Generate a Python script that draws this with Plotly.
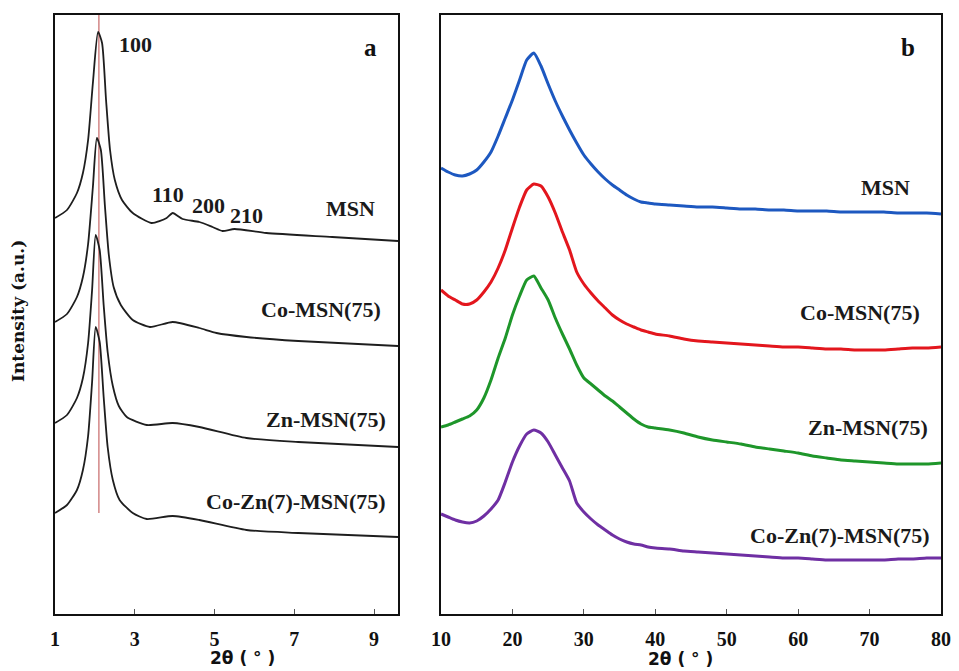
import plotly.graph_objects as go

# ---------------- Panel (a): low-angle XRD ----------------
a_x_msn = [1.0, 1.3, 1.55, 1.7, 1.83, 1.95, 2.08, 2.18, 2.28, 2.38, 2.5, 2.68, 2.95, 3.42, 3.8, 3.95, 4.2, 4.62, 4.95, 5.2, 5.5, 6.3, 7.95, 9.6]
a_y_msn = [396, 404, 421, 441, 474, 531, 582, 571, 514, 464, 434, 414, 401, 391, 396, 401, 395, 392, 387, 383, 385, 381, 377, 373]

a_x_co = [1.0, 1.3, 1.55, 1.7, 1.83, 1.95, 2.05, 2.15, 2.25, 2.35, 2.47, 2.65, 2.95, 3.38, 3.95, 4.62, 5.05, 5.8, 7.1, 9.6]
a_y_co = [292, 300, 317, 337, 370, 427, 476, 464, 409, 359, 327, 309, 294, 287, 292, 286, 281, 277, 273, 268]

a_x_zn = [1.0, 1.3, 1.55, 1.7, 1.83, 1.93, 2.02, 2.12, 2.22, 2.32, 2.45, 2.6, 2.8, 3.3, 3.95, 4.62, 5.8, 7.1, 9.6]
a_y_zn = [191, 199, 216, 236, 271, 324, 379, 364, 309, 262, 228, 208, 197, 189, 191, 187, 176, 172, 167]

a_x_cozn = [1.0, 1.3, 1.55, 1.7, 1.83, 1.93, 2.02, 2.12, 2.22, 2.32, 2.45, 2.62, 2.95, 3.3, 3.95, 4.62, 5.8, 7.1, 9.6]
a_y_cozn = [101, 109, 124, 144, 178, 232, 287, 272, 217, 167, 134, 114, 101, 95, 98, 94, 84, 81, 77]

a_labels = ["MSN", "Co-MSN(75)", "Zn-MSN(75)", "Co-Zn(7)-MSN(75)"]
a_label_x = [9.07, 9.22, 9.35, 9.35]
a_label_y = [406, 305, 195, 113]
hkl_text = ["100", "110", "200", "210"]
hkl_x = [3.03, 3.83, 4.86, 5.81]
hkl_y = [570, 420, 409, 399]
ref_line_x = 2.1
ref_line_y = [101, 599]

# ---------------- Panel (b): wide-angle XRD ----------------
b_x = [10, 11, 12, 13, 14, 15, 16, 17, 18, 19, 20, 21, 22, 23, 24, 25, 26, 27, 28, 29,
       30, 31, 32, 33, 34, 35, 36, 37, 38, 39, 40, 42, 44, 46, 48, 50, 52, 54, 56, 58,
       60, 62, 64, 66, 68, 70, 72, 74, 76, 78, 80]
b_y_msn = [446, 442, 439, 438, 440, 444, 452, 462, 478, 496, 514, 534, 554, 561, 548, 530, 513, 498, 484, 471,
           459, 450, 442, 435, 429, 424, 419, 415, 412, 411, 410, 409, 408, 407, 407, 406, 405, 405, 404, 404,
           403, 403, 403, 402, 402, 402, 402, 401, 401, 401, 400]
b_y_co = [324, 318, 314, 310, 310, 314, 322, 332, 346, 364, 386, 407, 424, 430, 428, 417, 401, 382, 364, 342,
          330, 321, 313, 306, 299, 294, 290, 287, 284, 282, 280, 278, 275, 273, 272, 271, 270, 269, 268, 267,
          267, 266, 265, 265, 264, 264, 264, 265, 266, 266, 267]
b_y_zn = [187, 189, 192, 195, 198, 204, 216, 234, 256, 276, 299, 318, 334, 338, 326, 314, 296, 280, 265, 249,
          236, 230, 224, 218, 213, 207, 201, 195, 190, 187, 186, 184, 181, 177, 174, 172, 170, 167, 165, 163,
          161, 158, 156, 154, 153, 152, 151, 150, 150, 150, 151]
b_y_cozn = [100, 97, 94, 92, 91, 93, 98, 105, 114, 132, 152, 168, 180, 184, 181, 172, 159, 146, 133, 111,
            102, 95, 89, 84, 79, 75, 72, 70, 69, 67, 66, 65, 63, 62, 61, 60, 59, 58, 57, 56,
            56, 55, 54, 54, 54, 54, 54, 55, 55, 56, 56]
b_colors = ["#1d58c0", "#e3161d", "#1e962a", "#6f2fa3"]
b_labels = ["MSN", "Co-MSN(75)", "Zn-MSN(75)", "Co-Zn(7)-MSN(75)"]
b_label_x = [75.94, 77.34, 78.46, 78.74]
b_label_y = [427, 302, 187, 79]

a_ticks = [1, 3, 5, 7, 9]
b_ticks = [10, 20, 30, 40, 50, 60, 70, 80]

SERIF = "Liberation Serif"
fig = go.Figure()

for xs, ys in [(a_x_msn, a_y_msn), (a_x_co, a_y_co), (a_x_zn, a_y_zn), (a_x_cozn, a_y_cozn)]:
    fig.add_trace(go.Scatter(x=xs, y=ys, mode="lines", line=dict(color="#1e1e1e", width=1.8, shape="spline", smoothing=0.6),
                             xaxis="x", yaxis="y", showlegend=False, hoverinfo="skip"))

for ys, c in zip([b_y_msn, b_y_co, b_y_zn, b_y_cozn], b_colors):
    fig.add_trace(go.Scatter(x=b_x, y=ys, mode="lines", line=dict(color=c, width=3, shape="spline", smoothing=0.5),
                             xaxis="x2", yaxis="y2", showlegend=False, hoverinfo="skip"))

fig.add_shape(type="line", xref="x", yref="y", x0=ref_line_x, x1=ref_line_x, y0=ref_line_y[0], y1=ref_line_y[1],
              line=dict(color="rgba(205,120,120,0.85)", width=1.6), layer="below")

lab_font = dict(family=SERIF, size=22, color="#1a1a1a", weight="bold")
annots = []
for t, x, y in zip(a_labels, a_label_x, a_label_y):
    annots.append(dict(text=t, x=x, y=y, xref="x", yref="y", xanchor="right", yanchor="middle", showarrow=False, font=lab_font))
for t, x, y in zip(hkl_text, hkl_x, hkl_y):
    annots.append(dict(text=t, x=x, y=y, xref="x", yref="y", xanchor="center", yanchor="middle", showarrow=False, font=lab_font))
for t, x, y in zip(b_labels, b_label_x, b_label_y):
    annots.append(dict(text=t, x=x, y=y, xref="x2", yref="y2", xanchor="right", yanchor="middle", showarrow=False, font=lab_font))
annots.append(dict(text="a", x=8.9, y=567, xref="x", yref="y", xanchor="center", yanchor="middle", showarrow=False,
                   font=dict(family=SERIF, size=25, color="#111", weight="bold")))
annots.append(dict(text="b", x=75.38, y=567, xref="x2", yref="y2", xanchor="center", yanchor="middle", showarrow=False,
                   font=dict(family=SERIF, size=25, color="#111", weight="bold")))
title_font = dict(family="DejaVu Sans", size=17, color="#111", weight="bold")
annots.append(dict(text="2θ ( ° )", x=242 / 959, y=1 - 658 / 671, xref="paper", yref="paper", xanchor="center", yanchor="middle",
                   showarrow=False, font=title_font))
annots.append(dict(text="2θ ( ° )", x=680 / 959, y=1 - 659 / 671, xref="paper", yref="paper", xanchor="center", yanchor="middle",
                   showarrow=False, font=title_font))
annots.append(dict(text="Intensity (a.u.)", x=18 / 959, y=1 - 311 / 671, xref="paper", yref="paper", xanchor="center", yanchor="middle",
                   textangle=-90, showarrow=False, font=dict(family="DejaVu Serif", size=17, color="#111", weight="bold")))

ytop = 1 - 15 / 671
ybot = 1 - 614 / 671
axis_common = dict(showline=True, mirror=True, linecolor="#111", linewidth=1.5, showgrid=False, zeroline=False,
                   ticks="inside", ticklen=5, tickcolor="#555", tickwidth=1, automargin=False,
                   tickfont=dict(family=SERIF, size=20, color="#111", weight="bold"), ticklabelstandoff=6)
yaxis_common = dict(showline=True, mirror=True, linecolor="#111", linewidth=1.5, automargin=False,
                    showgrid=False, zeroline=False, showticklabels=False, ticks="")
fig.update_layout(
    template="none",
    width=959, height=671, margin=dict(l=0, r=0, t=0, b=0, autoexpand=False),
    paper_bgcolor="white", plot_bgcolor="white",
    xaxis=dict(domain=[55 / 959, 398 / 959], range=[1, 9.6], tickvals=a_ticks, anchor="y", **axis_common),
    yaxis=dict(domain=[ybot, ytop], range=[0, 599], anchor="x", **yaxis_common),
    xaxis2=dict(domain=[441 / 959, 941 / 959], range=[10, 80], tickvals=b_ticks, anchor="y2", **axis_common),
    yaxis2=dict(domain=[ybot, ytop], range=[0, 599], anchor="x2", **yaxis_common),
    annotations=annots,
)

fig.write_html("out.html")
